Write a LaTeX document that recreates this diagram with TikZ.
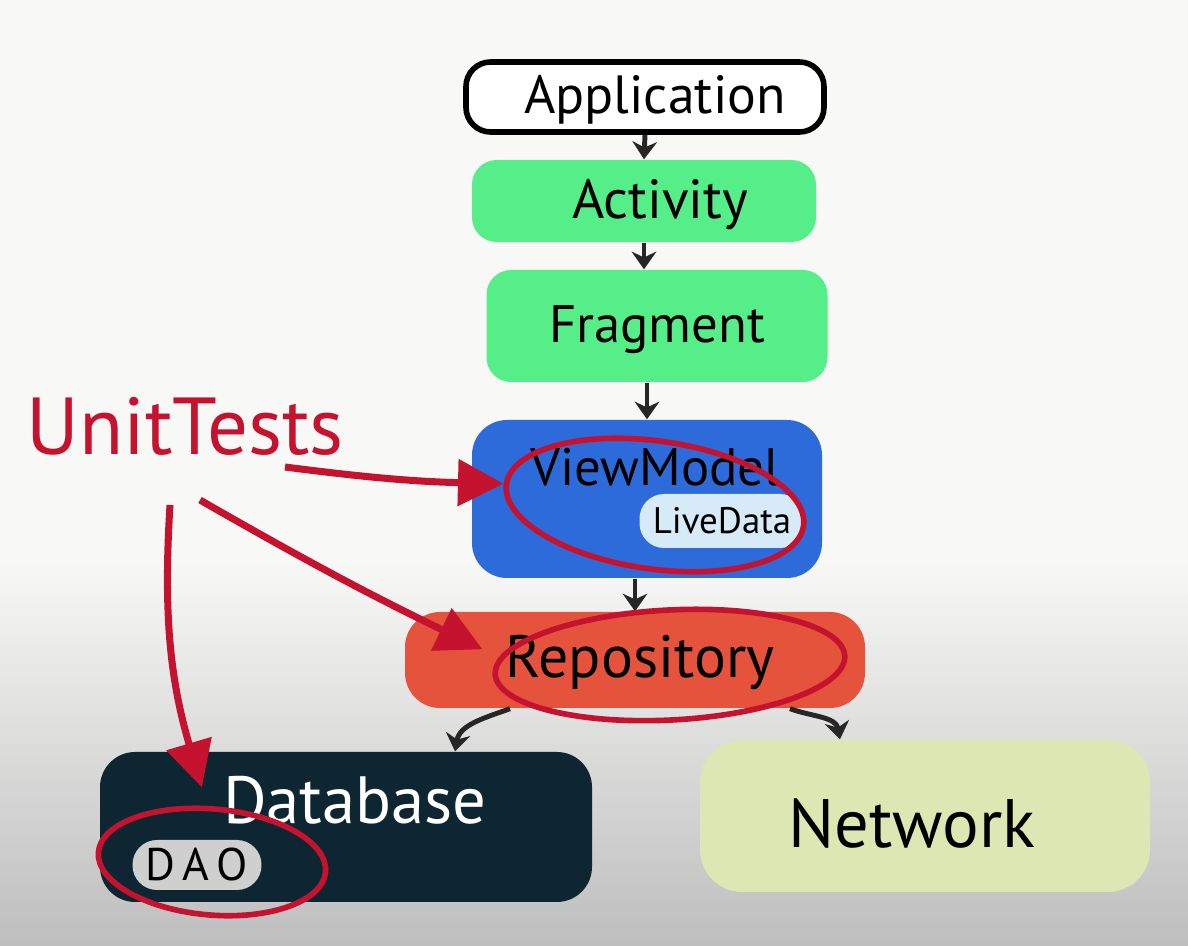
\documentclass[tikz,border=0pt]{standalone}
\usepackage{fontspec}
\setmainfont{PT Sans}
\usetikzlibrary{arrows.meta,shapes.geometric}

\definecolor{bgtop}{HTML}{F8F8F7}
\definecolor{bgbottom}{HTML}{BEBEBE}
\definecolor{actgreen}{HTML}{55EE88}
\definecolor{vmblue}{HTML}{2D6BDB}
\definecolor{ldblue}{HTML}{D6EAF8}
\definecolor{repored}{HTML}{E5533C}
\definecolor{dbdark}{HTML}{0D2631}
\definecolor{daogrey}{HTML}{CFCFCF}
\definecolor{netgreen}{HTML}{DCE7B4}
\definecolor{testred}{HTML}{C4122F}

\newcommand{\handsize}[1]{\fontsize{#1}{#1}\selectfont}

\begin{document}
\begin{tikzpicture}[
	layer/.style={rounded corners=7pt,inner sep=0pt},
	label text/.style={inner sep=0pt},
	flow/.style={-{Stealth[length=5pt,width=7pt]},line width=1.4pt,black!85},
	redflow/.style={-{Triangle[length=13pt,width=13pt]},line width=2pt,testred},
	ring/.style={ellipse,draw=testred,line width=1.6pt,inner sep=0pt}
]
	% background
	\fill[bgtop] (0,0) rectangle (11.88,9.46);
	\shade[top color=bgtop,bottom color=bgbottom] (0,0) rectangle (11.88,3.86);
	\useasboundingbox (0,0) rectangle (11.88,9.46);

	% layers
	\node[layer,draw,line width=1.6pt,fill=white,minimum width=3.58cm,minimum height=0.70cm] (app) at (6.45,8.49) {};
	\node[label text,font=\handsize{15.3}] (apptext) at (6.55,8.46) {Application};
	\node[layer,fill=actgreen,minimum width=3.44cm,minimum height=0.82cm] (act) at (6.44,7.45) {};
	\node[label text,font=\handsize{15.7}] (acttext) at (6.60,7.41) {Activity};
	\node[layer,fill=actgreen,minimum width=3.41cm,minimum height=1.12cm] (frag) at (6.57,6.20) {};
	\node[label text,font=\handsize{15}] (fragtext) at (6.57,6.16) {Fragment};
	\node[layer,rounded corners=10pt,fill=vmblue,minimum width=3.50cm,minimum height=1.58cm] (vm) at (6.47,4.47) {};
	\node[label text,font=\handsize{15}] (vmtext) at (6.55,4.79) {ViewModel};
	\node[layer,fill=ldblue,font=\handsize{10.5},minimum width=1.65cm,minimum height=0.54cm] (ld) at (7.22,4.25) {LiveData};
	\node[layer,rounded corners=10pt,fill=repored,minimum width=4.60cm,minimum height=0.96cm] (repo) at (6.35,2.86) {};
	\node[label text,font=\handsize{17}] (repotext) at (6.40,2.84) {Repository};
	\node[layer,rounded corners=10pt,fill=dbdark,minimum width=4.92cm,minimum height=1.50cm] (db) at (3.46,1.19) {};
	\node[label text,font=\handsize{19},text=white] (dbtext) at (3.55,1.46) {Database};
	\node[layer,fill=daogrey,font=\handsize{13}\addfontfeature{LetterSpace=18},minimum width=1.29cm,minimum height=0.50cm] (dao) at (1.97,0.81) {DAO};
	\node[layer,rounded corners=12pt,fill=netgreen,minimum width=4.50cm,minimum height=1.52cm] (net) at (9.25,1.30) {};
	\node[label text,font=\handsize{19.5}] (nettext) at (9.12,1.22) {Network};

	% flow between layers
	\draw[flow] (app.south) -- (act.north);
	\draw[flow] (act.south) -- (act.south |- frag.north);
	\draw[flow] (frag.south -| vm.north) -- (vm.north);
	\draw[flow] (vm.south -| repo.north) -- (repo.north);
	\draw[flow] ([xshift=-1.25cm]repo.south) to[out=200,in=80] ([xshift=1.09cm]db.north);
	\draw[flow] ([xshift=1.55cm]repo.south) to[out=-20,in=100] ([xshift=-0.85cm]net.north);

	% unit tests
	\node[label text,text=testred,font=\handsize{23}] (ut) at (1.85,5.20) {UnitTests};
	\node[ring,rotate=-8,minimum width=3.00cm,minimum height=1.28cm] (vmring) at (6.55,4.41) {};
	\node[ring,rotate=3,minimum width=3.50cm,minimum height=1.10cm] (reporing) at (6.70,2.81) {};
	\node[ring,rotate=-5,minimum width=2.28cm,minimum height=1.06cm] (daoring) at (2.12,0.84) {};

	\coordinate (utvm) at (2.85,4.79);
	\coordinate (utrepo) at (2.00,4.46);
	\coordinate (utdao) at (1.70,4.41);
	\draw[redflow] (utvm) to[bend right=3] (vmring.west);
	\draw[redflow] (utrepo) to[bend right=2] ([xshift=-0.1cm,yshift=0.25cm]reporing.west);
	\draw[redflow] (utdao) to[bend right=10] ([xshift=-0.15cm,yshift=0.19cm]daoring.north);
\end{tikzpicture}
\end{document}
